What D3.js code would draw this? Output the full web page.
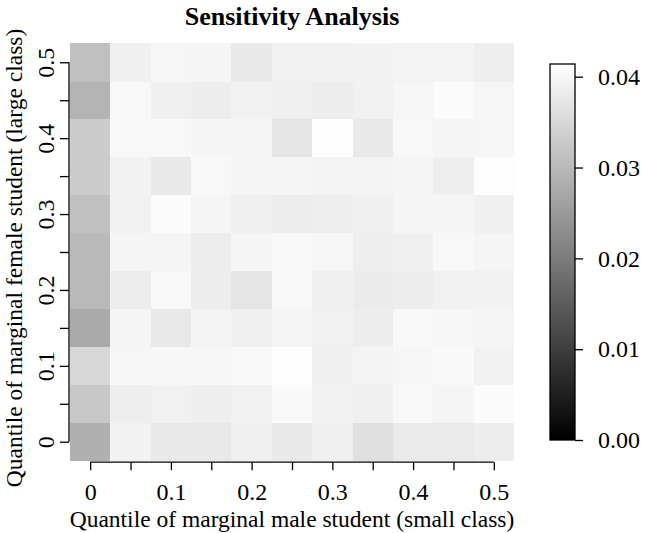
<!DOCTYPE html>
<html>
<head>
<meta charset="utf-8">
<script src="https://cdn.jsdelivr.net/npm/d3@7"></script>
<style>
  html, body { margin: 0; padding: 0; background: #fff; }
  svg { display: block; font-family: "Liberation Serif", "Times New Roman", serif; }
</style>
</head>
<body>
<svg id="chart" width="645" height="533"></svg>
<script>
// ---- data ----
const xValues = [0, 0.05, 0.1, 0.15, 0.2, 0.25, 0.3, 0.35, 0.4, 0.45, 0.5];
const yValues = [0, 0.05, 0.1, 0.15, 0.2, 0.25, 0.3, 0.35, 0.4, 0.45, 0.5];
const xTickLabels = ["0", "0.1", "0.2", "0.3", "0.4", "0.5"];
const yTickLabels = ["0", "0.1", "0.2", "0.3", "0.4", "0.5"];
const legendTicks = [0, 0.01, 0.02, 0.03, 0.04];
const zMax = 0.0414;
// rows indexed by yValues (bottom to top), columns by xValues
const row000 = [0.0285, 0.0393, 0.0377, 0.0376, 0.0390, 0.0377, 0.0389, 0.0364, 0.0380, 0.0380, 0.0384];
const row005 = [0.0325, 0.0387, 0.0392, 0.0387, 0.0392, 0.0405, 0.0393, 0.0390, 0.0402, 0.0398, 0.0408];
const row010 = [0.0350, 0.0400, 0.0400, 0.0400, 0.0405, 0.0410, 0.0390, 0.0395, 0.0400, 0.0405, 0.0392];
const row015 = [0.0276, 0.0397, 0.0377, 0.0395, 0.0390, 0.0398, 0.0392, 0.0384, 0.0403, 0.0400, 0.0398];
const row020 = [0.0301, 0.0385, 0.0403, 0.0385, 0.0371, 0.0403, 0.0390, 0.0382, 0.0384, 0.0392, 0.0392];
const row025 = [0.0301, 0.0398, 0.0397, 0.0384, 0.0398, 0.0405, 0.0400, 0.0387, 0.0389, 0.0403, 0.0397];
const row030 = [0.0312, 0.0392, 0.0407, 0.0397, 0.0389, 0.0384, 0.0387, 0.0390, 0.0397, 0.0397, 0.0390];
const row035 = [0.0332, 0.0393, 0.0379, 0.0403, 0.0398, 0.0397, 0.0395, 0.0395, 0.0398, 0.0387, 0.0410];
const row040 = [0.0332, 0.0402, 0.0403, 0.0398, 0.0397, 0.0372, 0.0411, 0.0379, 0.0402, 0.0397, 0.0400];
const row045 = [0.0293, 0.0402, 0.0390, 0.0384, 0.0392, 0.0390, 0.0385, 0.0392, 0.0400, 0.0407, 0.0400];
const row050 = [0.0312, 0.0390, 0.0400, 0.0398, 0.0379, 0.0392, 0.0392, 0.0393, 0.0395, 0.0395, 0.0387];
const zRows = [row000, row005, row010, row015, row020, row025, row030, row035, row040, row045, row050];

const title = "Sensitivity Analysis";
const xTitle = "Quantile of marginal male student (small class)";
const yTitle = "Quantile of marginal female student (large class)";

// ---- layout ----
const svg = d3.select("#chart");
const plot = { left: 70, right: 514, top: 43.3, bottom: 460.7 };
const step = 0.05;
const tickFont = 24;
const labFont = 23.5;
const x = d3.scaleLinear().domain([-step / 2, 0.5 + step / 2]).range([plot.left, plot.right]);
const y = d3.scaleLinear().domain([-step / 2, 0.5 + step / 2]).range([plot.bottom, plot.top]);
const color = d3.scaleLinear().domain([0, zMax]).range(["#000000", "#ffffff"]).interpolate(d3.interpolateRgb).clamp(true);

const cells = [];
zRows.forEach((row, i) => row.forEach((v, j) => cells.push({ xv: xValues[j], yv: yValues[i], v })));

svg.append("g").selectAll("rect").data(cells).join("rect")
  .attr("x", d => x(d.xv - step / 2))
  .attr("y", d => y(d.yv + step / 2))
  .attr("width", d => x(d.xv + step / 2) - x(d.xv - step / 2) + 0.3)
  .attr("height", d => y(d.yv - step / 2) - y(d.yv + step / 2) + 0.3)
  .attr("fill", d => color(d.v))
  .attr("shape-rendering", "crispEdges");

// x axis
const xAxisG = svg.append("g").attr("transform", `translate(0,${plot.bottom + 1.5})`)
  .call(d3.axisBottom(x).tickValues(xValues).tickSize(8).tickSizeOuter(0)
    .tickFormat((d, i) => (i % 2 === 0 ? xTickLabels[i / 2] : "")));
xAxisG.select(".domain").attr("d", `M${x(0)},0H${x(0.5)}`).attr("stroke", "#000").attr("stroke-width", 1.3);
xAxisG.selectAll(".tick line").attr("stroke", "#000").attr("stroke-width", 1.3);
xAxisG.selectAll(".tick text").attr("font-size", tickFont).attr("font-family", "Liberation Serif").attr("fill", "#000").attr("dy", "0").attr("y", 38);

// y axis
const yAxisG = svg.append("g").attr("transform", `translate(${plot.left - 1},0)`)
  .call(d3.axisLeft(y).tickValues(yValues).tickSize(9).tickSizeOuter(0)
    .tickFormat((d, i) => (i % 2 === 0 ? yTickLabels[i / 2] : "")));
yAxisG.select(".domain").attr("d", `M0,${y(0)}V${y(0.5)}`).attr("stroke", "#000").attr("stroke-width", 1.3);
yAxisG.selectAll(".tick line").attr("stroke", "#000").attr("stroke-width", 1.3);
yAxisG.selectAll(".tick text")
  .attr("font-size", tickFont).attr("font-family", "Liberation Serif").attr("fill", "#000")
  .attr("x", 0).attr("dy", 0).attr("text-anchor", "middle")
  .attr("transform", "translate(-15,0) rotate(-90)");

// titles
svg.append("text").attr("x", (plot.left + plot.right) / 2).attr("y", 25)
  .attr("text-anchor", "middle").attr("font-weight", "bold").attr("font-size", 26).text(title);
svg.append("text").attr("x", (plot.left + plot.right) / 2).attr("y", 527)
  .attr("text-anchor", "middle").attr("font-size", labFont).text(xTitle);
svg.append("text").attr("transform", `translate(22,${(plot.top + plot.bottom) / 2 + 6}) rotate(-90)`)
  .attr("text-anchor", "middle").attr("font-size", labFont).text(yTitle);

// legend
const leg = { left: 550, right: 575, top: 64, bottom: 440 };
const ly = d3.scaleLinear().domain([0, zMax]).range([leg.bottom, leg.top]);
const defs = svg.append("defs");
const grad = defs.append("linearGradient").attr("id", "lg").attr("x1", 0).attr("y1", 1).attr("x2", 0).attr("y2", 0);
d3.range(0, 1.0001, 0.1).forEach(t => grad.append("stop").attr("offset", t).attr("stop-color", color(t * zMax)));
svg.append("rect").attr("x", leg.left).attr("y", leg.top)
  .attr("width", leg.right - leg.left).attr("height", leg.bottom - leg.top)
  .attr("fill", "url(#lg)").attr("stroke", "#000").attr("stroke-width", 1.3);
const lAxis = svg.append("g").attr("transform", `translate(${leg.right},0)`)
  .call(d3.axisRight(ly).tickValues(legendTicks).tickSize(8).tickFormat(d3.format(".2f")));
lAxis.select(".domain").remove();
lAxis.selectAll(".tick line").attr("stroke", "#000").attr("stroke-width", 1.3);
lAxis.selectAll(".tick text").attr("font-size", tickFont).attr("font-family", "Liberation Serif").attr("fill", "#000").attr("x", 23);
</script>
</body>
</html>
